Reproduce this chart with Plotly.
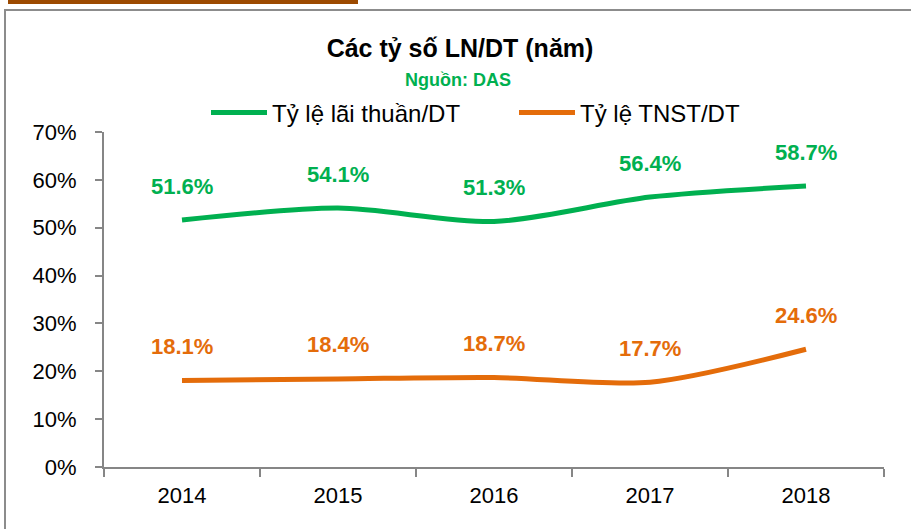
import plotly.graph_objects as go

years = ["2014", "2015", "2016", "2017", "2018"]
lai_thuan = [51.6, 54.1, 51.3, 56.4, 58.7]
tnst = [18.1, 18.4, 18.7, 17.7, 24.6]
y_ticks = [0, 10, 20, 30, 40, 50, 60, 70]
y_tick_labels = [f"{v}%" for v in y_ticks]

GREEN = "#00B050"
ORANGE = "#E46C0A"
FONT = "Liberation Sans, Arial, sans-serif"

L, R, T, B = 104, 884, 132, 467
PW, PH = R - L, B - T


def px_x(X):
    return (X - L) / PW


def px_y(Y):
    return (B - Y) / PH


fig = go.Figure()
fig.add_trace(go.Scatter(x=years, y=lai_thuan, mode="lines", name="Tỷ lệ lãi thuần/DT",
                         line=dict(color=GREEN, width=5, shape="spline", smoothing=0.8)))
fig.add_trace(go.Scatter(x=years, y=tnst, mode="lines", name="Tỷ lệ TNST/DT",
                         line=dict(color=ORANGE, width=5, shape="spline", smoothing=0.8)))

annotations = []
for series, color in ((lai_thuan, GREEN), (tnst, ORANGE)):
    for i, v in enumerate(series):
        annotations.append(dict(x=i, y=v, xref="x", yref="y", text=f"<b>{v:.1f}%</b>",
                                showarrow=False, yshift=34,
                                font=dict(size=22, color=color, family=FONT)))
annotations.append(dict(x=px_x(458), y=px_y(80), xref="paper", yref="paper",
                        text="<b>Nguồn: DAS</b>", showarrow=False, yanchor="middle",
                        font=dict(size=18, color=GREEN, family=FONT)))

shapes = [
    dict(type="line", xref="paper", yref="paper", x0=px_x(4), x1=px_x(915), y0=px_y(10),
         y1=px_y(10), line=dict(color="#8C8C8C", width=2)),
    dict(type="line", xref="paper", yref="paper", x0=px_x(5), x1=px_x(5), y0=px_y(10),
         y1=px_y(535), line=dict(color="#8C8C8C", width=2)),
    dict(type="rect", xref="paper", yref="paper", x0=px_x(8), x1=px_x(358),
         y0=px_y(4), y1=px_y(-2), fillcolor="#9C4A00", line=dict(width=0)),
]

fig.update_layout(
    width=911, height=529,
    margin=dict(l=L, r=911 - R, t=T, b=529 - B),
    paper_bgcolor="white", plot_bgcolor="white",
    font=dict(family=FONT, size=22, color="#000000"),
    title=dict(text="<b>Các tỷ số LN/DT (năm)</b>", x=460 / 911, xanchor="center",
               y=1 - 48 / 529, yanchor="middle", font=dict(size=25, family=FONT)),
    showlegend=True,
    legend=dict(orientation="h", x=px_x(206), xanchor="left", y=px_y(113),
                yanchor="middle", font=dict(size=24, family=FONT), itemwidth=56,
                entrywidth=237, entrywidthmode="pixels", bgcolor="rgba(0,0,0,0)"),
    annotations=annotations,
    shapes=shapes,
)
fig.update_xaxes(type="category", range=[-0.5, 4.5], showline=True, linecolor="#868686", linewidth=2,
                 ticks="outside", tickson="boundaries", ticklen=8, tickcolor="#868686", tickwidth=1.5,
                 showgrid=False, tickfont=dict(size=22), zeroline=False, ticklabelstandoff=8)
fig.update_yaxes(range=[0, 70], tickvals=y_ticks, ticktext=y_tick_labels, showline=True,
                 linecolor="#868686", linewidth=2, ticks="outside", ticklen=7, tickcolor="#868686",
                 tickwidth=1.5, showgrid=False, zeroline=False, tickfont=dict(size=22),
                 ticklabelstandoff=14)

fig.write_html("out.html", config={"displayModeBar": False},
               post_script="document.body.style.margin='0px';")
